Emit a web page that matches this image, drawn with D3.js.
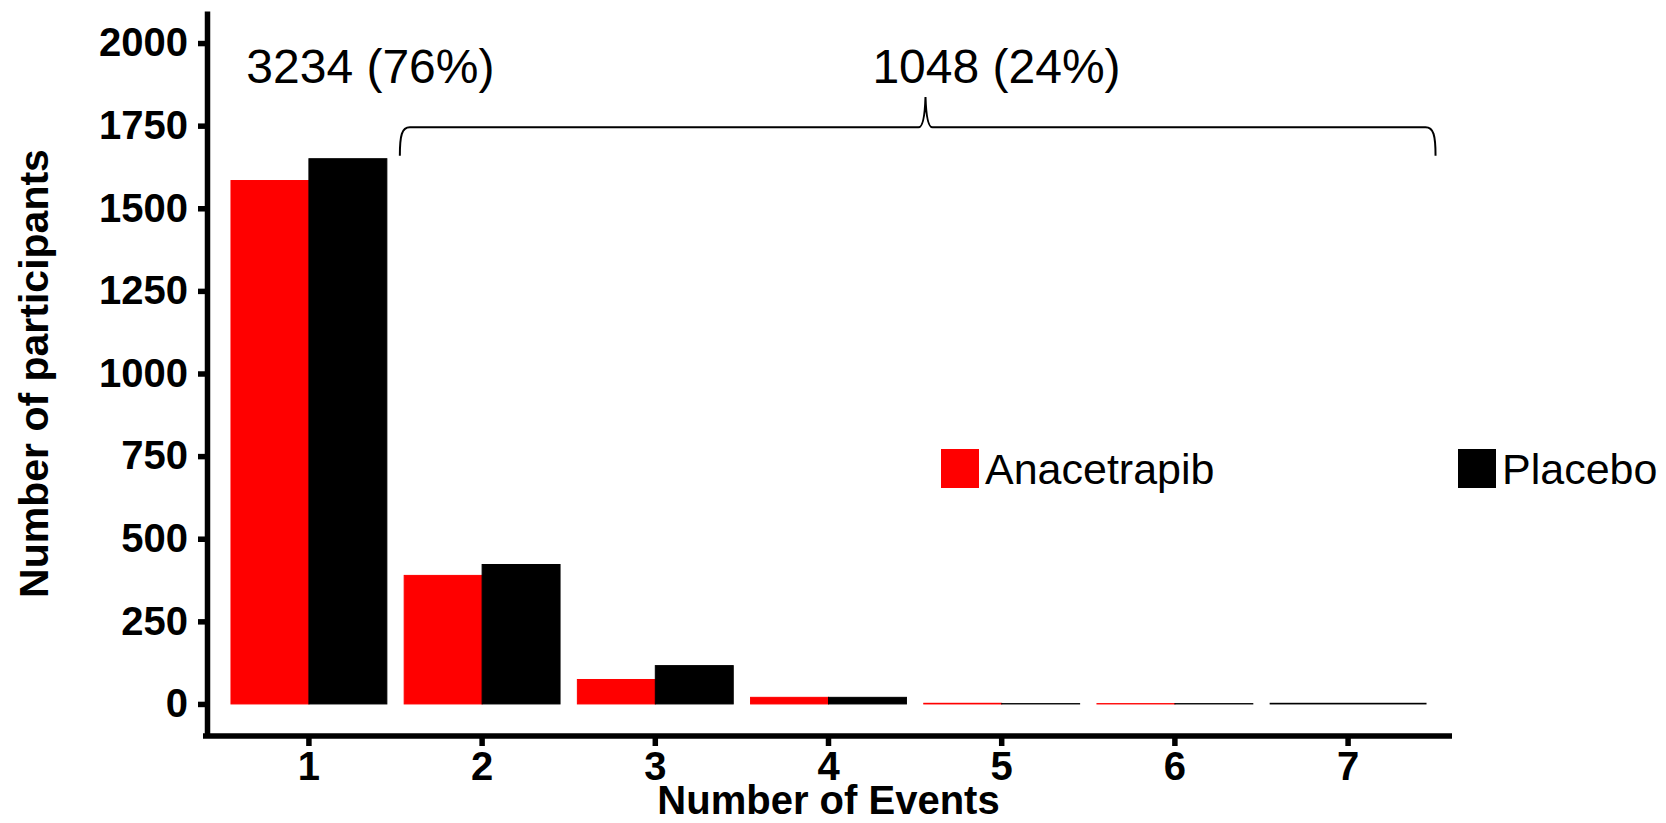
<!DOCTYPE html>
<html>
<head>
<meta charset="utf-8">
<script src="https://cdn.jsdelivr.net/npm/d3@7"></script>
<style>
  body { margin: 0; background: white; }
  text { font-family: "Liberation Sans", Arial, sans-serif; }
</style>
</head>
<body>
<svg width="1666" height="823"></svg>
<script>
// data
const events = ['1', '2', '3', '4', '5', '6', '7'];
const seriesNames = ['Anacetrapib', 'Placebo'];
const seriesColors = ['#ff0000', '#000000'];
const anacetrapib = [1584, 389, 74, 20, 2, 1, null];
const placebo = [1650, 422, 116, 20, 1, 1, 2];
const yTicks = [0, 250, 500, 750, 1000, 1250, 1500, 1750, 2000];
const groupLabels = ['3234 (76%)', '1048 (24%)'];

const svg = d3.select('svg');
const width = +svg.attr('width');
const height = +svg.attr('height');

const margin = {top: 11, bottom: 87, left: 205, right: 214};
const innerLeft = margin.left;
const innerRight = width - margin.right;
const innerTop = margin.top;
const innerBottom = height - margin.bottom;

const xScale = d3.scaleBand()
    .domain(events)
    .range([innerLeft, innerRight])
    .paddingInner(0.1)
    .paddingOuter(0.15);

const yScale = d3.scaleLinear()
    .domain([-97, 2097])
    .range([innerBottom, innerTop]);

// position along x in "event" units, for annotations
const step = xScale.step();
const xAt = v => xScale('1') + xScale.bandwidth() / 2 + (v - 1) * step;

// bars, dodged; a lone series takes the whole slot
const rows = [];
events.forEach((e, i) => {
  const vals = [anacetrapib[i], placebo[i]];
  const present = vals.map((v, k) => ({v, k})).filter(d => d.v != null);
  const w = xScale.bandwidth() / present.length;
  present.forEach((d, j) => {
    rows.push({event: e, value: d.v, series: d.k, x: xScale(e) + j * w, w});
  });
});

svg.append('g')
  .selectAll('rect')
  .data(rows)
  .enter()
  .append('rect')
    .attr('x', d => d.x)
    .attr('width', d => d.w)
    .attr('y', d => yScale(d.value))
    .attr('height', d => yScale(0) - yScale(d.value))
    .attr('fill', d => seriesColors[d.series])
    .attr('stroke', d => seriesColors[d.series])
    .attr('stroke-width', 1);

// axes
const yAxis = svg.append('g')
    .attr('transform', `translate(207,0)`)
    .call(d3.axisLeft(yScale).tickValues(yTicks).tickFormat(d3.format('d'))
      .tickSize(9).tickSizeOuter(0).tickPadding(10));

const xAxis = svg.append('g')
    .attr('transform', `translate(0,${innerBottom})`)
    .call(d3.axisBottom(xScale).tickSize(10).tickSizeOuter(0).tickPadding(6));

[yAxis, xAxis].forEach(ax => {
  ax.select('.domain').attr('stroke', 'black').attr('stroke-width', 5.5);
  ax.selectAll('.tick line').attr('stroke', 'black').attr('stroke-width', 5.5);
  ax.selectAll('.tick text')
    .attr('fill', 'black')
    .style('font-family', '"Liberation Sans", Arial, sans-serif')
    .style('font-size', '40px')
    .style('font-weight', 'bold');
});
xAxis.select('.domain').attr('d', `M${innerLeft - 2},0H${innerRight}`);

// axis titles
svg.append('text')
    .attr('x', (innerLeft + innerRight) / 2)
    .attr('y', 814)
    .attr('text-anchor', 'middle')
    .style('font-size', '40px')
    .style('font-weight', 'bold')
    .text('Number of Events');

svg.append('text')
    .attr('transform', `translate(48,${(innerTop + innerBottom) / 2}) rotate(-90)`)
    .attr('text-anchor', 'middle')
    .style('font-size', '41px')
    .style('font-weight', 'bold')
    .text('Number of participants');

// group annotations
svg.append('text')
    .attr('x', xAt(1.355))
    .attr('y', yScale(1880))
    .attr('text-anchor', 'middle')
    .style('font-size', '48px')
    .text(groupLabels[0]);

svg.append('text')
    .attr('x', xAt(4.97))
    .attr('y', yScale(1880))
    .attr('text-anchor', 'middle')
    .style('font-size', '48px')
    .text(groupLabels[1]);

// curly brace over events 2..7
const bx1 = xAt(1.525), bx2 = xAt(7.505), tip = xAt(4.56);
const yLine = yScale(1745), yEnd = yScale(1659), yTip = yScale(1837);
const brace = d3.path();
brace.moveTo(bx1, yEnd);
brace.bezierCurveTo(bx1, yLine + 8, bx1 + 2, yLine, bx1 + 10, yLine);
brace.lineTo(tip - 7, yLine);
brace.quadraticCurveTo(tip - 1, yLine, tip, yTip);
brace.quadraticCurveTo(tip + 1, yLine, tip + 7, yLine);
brace.lineTo(bx2 - 10, yLine);
brace.bezierCurveTo(bx2 - 2, yLine, bx2, yLine + 8, bx2, yEnd);

svg.append('path')
    .attr('d', brace.toString())
    .attr('fill', 'none')
    .attr('stroke', 'black')
    .attr('stroke-width', 2);

// legend
const legendX = [941, 1458];
const legend = svg.append('g')
  .selectAll('g')
  .data(seriesNames)
  .enter()
  .append('g')
    .attr('transform', (d, i) => `translate(${legendX[i]},449)`);

legend.append('rect')
    .attr('width', 38)
    .attr('height', 39)
    .attr('fill', (d, i) => seriesColors[i]);

legend.append('text')
    .attr('x', 44)
    .attr('y', 35)
    .style('font-size', '43px')
    .text(d => d);
</script>
</body>
</html>
